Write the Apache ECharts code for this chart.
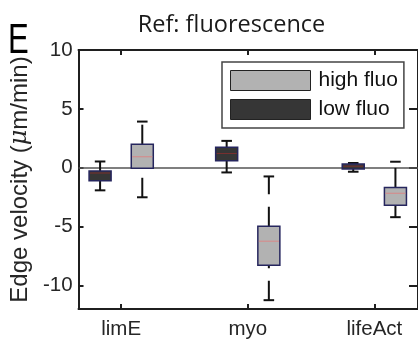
<!DOCTYPE html>
<html>
<head>
<meta charset="utf-8">
<script src="https://cdn.jsdelivr.net/npm/echarts@6/dist/echarts.min.js"></script>
<style>
  html, body { margin: 0; padding: 0; background: #fff; }
  #chart { width: 418px; height: 340px; }
</style>
</head>
<body>
<div id="chart"></div>
<script>
// Reporter groups along the x axis
const CATEGORIES = ['limE', 'myo', 'lifeAct'];
const CATEGORY_POS = [1, 2, 3];

// Box statistics per group: [lower whisker, Q1, median, Q3, upper whisker]  (µm/min)
const HIGH_FLUO = [
  [-2.51, -0.05, 0.93, 2.00, 3.92],
  [-11.25, -8.29, -6.24, -4.97, -0.74],
  [-4.20, -3.19, -2.17, -1.67, 0.51]
];
const LOW_FLUO = [
  [-1.92, -1.10, -0.45, -0.28, 0.53],
  [-0.40, 0.59, 1.21, 1.75, 2.28],
  [-0.34, -0.11, 0.13, 0.31, 0.40]
];

const Y_TICKS = [-10, -5, 0, 5, 10];

// Side-by-side offsets of the two groups around each category
const OFFSET = 1 / 6;
const BOX_WIDTH = 0.174;
const X_MIN = 0.663;
const X_MAX = 3.345;

const AXIS_COLOR = '#1f1f1f';
const LABEL_FONT = 'Liberation Sans, Arial, sans-serif';

function toItems(stats, shift) {
  return stats.map((s, i) => [CATEGORY_POS[i] + shift].concat(s));
}

function makeRenderer(medianColor) {
  return function (params, api) {
    const x = api.value(0);
    const cx = api.coord([x, 0])[0];
    const yLow = api.coord([x, api.value(1)])[1];
    const yQ1 = api.coord([x, api.value(2)])[1];
    const yMed = api.coord([x, api.value(3)])[1];
    const yQ3 = api.coord([x, api.value(4)])[1];
    const yHigh = api.coord([x, api.value(5)])[1];
    const w = api.size([BOX_WIDTH, 0])[0];
    const capW = w * 0.48;
    const whisker = { stroke: '#111', lineWidth: 2, lineDash: [19.5, 12.5] };
    const cap = { stroke: '#111', lineWidth: 2 };
    return {
      type: 'group',
      children: [
        // upper whisker drawn outward from the box, lower one inward from its end
        { type: 'line', shape: { x1: cx, y1: yQ3, x2: cx, y2: yHigh }, style: whisker },
        { type: 'line', shape: { x1: cx, y1: yLow, x2: cx, y2: yQ1 }, style: whisker },
        { type: 'line', shape: { x1: cx - capW / 2, y1: yHigh, x2: cx + capW / 2, y2: yHigh }, style: cap },
        { type: 'line', shape: { x1: cx - capW / 2, y1: yLow, x2: cx + capW / 2, y2: yLow }, style: cap },
        {
          type: 'rect',
          shape: { x: cx - w / 2, y: yQ3, width: w, height: yQ1 - yQ3 },
          style: { fill: api.visual('color'), stroke: '#26265e', lineWidth: 1.5 }
        },
        {
          type: 'line',
          shape: { x1: cx - w / 2 + 1, y1: yMed, x2: cx + w / 2 - 1, y2: yMed },
          style: { stroke: medianColor, lineWidth: 1 }
        }
      ]
    };
  };
}

const axisLine = { show: true, onZero: false, lineStyle: { color: AXIS_COLOR, width: 2 } };

const chart = echarts.init(document.getElementById('chart'), null, { renderer: 'canvas' });
chart.setOption({
  animation: false,
  backgroundColor: '#fff',
  grid: { left: 72, right: -4, top: 50, bottom: 30.5, containLabel: false },
  graphic: [
    {
      type: 'text', x: 8, y: 41, scaleX: 0.74,
      style: { text: 'E', font: '42px ' + LABEL_FONT, fill: '#000', textVerticalAlign: 'middle' }
    },
    {
      type: 'text', x: 231.5, y: 25,
      style: {
        text: 'Ref: fluorescence', font: '23.5px "Open Sans", "Noto Sans", sans-serif',
        fill: '#1a1a1a', textAlign: 'center', textVerticalAlign: 'middle'
      }
    }
  ],
  legend: {
    orient: 'vertical',
    left: 222, top: 62,
    padding: [8, 6, 8, 8],
    itemWidth: 80, itemHeight: 20, itemGap: 8,
    borderColor: '#444', borderWidth: 1.5, backgroundColor: '#fff',
    icon: 'rect',
    itemStyle: { borderColor: '#222', borderWidth: 1 },
    textStyle: { fontFamily: LABEL_FONT, fontSize: 21, color: '#111', padding: [0, 0, 0, 3], lineHeight: 20 },
    data: ['high fluo', 'low fluo']
  },
  xAxis: [
    {
      type: 'value', position: 'bottom', min: X_MIN, max: X_MAX,
      axisLine: axisLine,
      axisTick: { show: true, inside: true, length: 5, customValues: CATEGORY_POS, lineStyle: { color: AXIS_COLOR, width: 2 } },
      axisLabel: {
        customValues: CATEGORY_POS, formatter: v => CATEGORIES[Math.round(v) - 1],
        fontFamily: LABEL_FONT, fontSize: 20.5, color: '#262626', margin: 10
      },
      splitLine: { show: false }
    },
    {
      type: 'value', position: 'top', min: X_MIN, max: X_MAX,
      axisLine: axisLine,
      axisTick: { show: true, inside: true, length: 5, customValues: CATEGORY_POS, lineStyle: { color: AXIS_COLOR, width: 2 } },
      axisLabel: { show: false },
      splitLine: { show: false }
    }
  ],
  yAxis: [
    {
      type: 'value', position: 'left', min: -12, max: 10,
      axisLine: axisLine,
      axisTick: { show: true, inside: true, length: 5, customValues: Y_TICKS, lineStyle: { color: AXIS_COLOR, width: 2 } },
      axisLabel: { customValues: Y_TICKS, fontFamily: LABEL_FONT, fontSize: 20.5, color: '#262626', margin: 6 },
      splitLine: { show: false },
      name: '{n|Edge velocity (}{mu|\u03bc}{n|m/min)}',
      nameLocation: 'middle', nameRotate: 90, nameGap: 40,
      nameTextStyle: {
        rich: {
          n: { fontFamily: LABEL_FONT, fontSize: 24, color: '#262626' },
          mu: { fontFamily: '"DejaVu Serif", serif', fontStyle: 'italic', fontSize: 24, color: '#262626' }
        }
      }
    },
    {
      type: 'value', position: 'right', min: -12, max: 10,
      axisLine: axisLine,
      axisTick: { show: true, inside: true, length: 9, customValues: Y_TICKS, lineStyle: { color: AXIS_COLOR, width: 2 } },
      axisLabel: { show: false },
      splitLine: { show: false }
    }
  ],
  series: [
    {
      name: 'high fluo', type: 'custom',
      itemStyle: { color: '#b2b2b2' },
      encode: { x: 0, y: [1, 2, 3, 4, 5] },
      renderItem: makeRenderer('#d98888'),
      data: toItems(HIGH_FLUO, OFFSET),
      z: 3
    },
    {
      name: 'low fluo', type: 'custom',
      itemStyle: { color: '#363636' },
      encode: { x: 0, y: [1, 2, 3, 4, 5] },
      renderItem: makeRenderer('#7a3030'),
      data: toItems(LOW_FLUO, -OFFSET),
      z: 3,
      markLine: {
        silent: true, symbol: 'none', z: 2,
        label: { show: false },
        lineStyle: { color: '#555', type: 'solid', width: 1.5 },
        data: [{ yAxis: 0 }]
      }
    }
  ]
});
</script>
</body>
</html>
